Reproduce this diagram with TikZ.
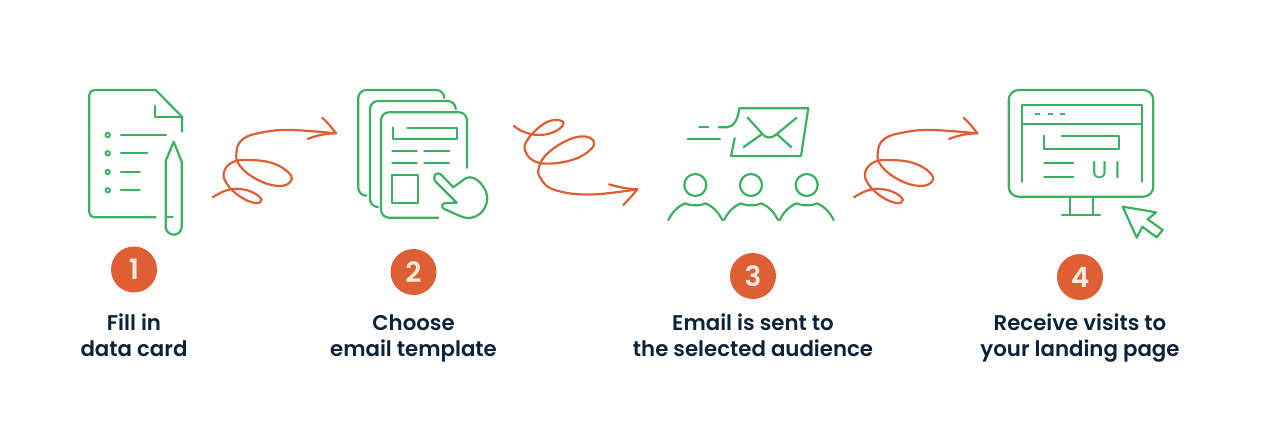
\documentclass[tikz,border=0pt]{standalone}
\usepackage{fontspec}
\setmainfont{Poppins}
\newfontfamily\capfont{Poppins SemiBold}
\usepackage{xcolor}
\definecolor{iconGreen}{HTML}{3CB062}
\definecolor{swirlOrange}{HTML}{DE5F33}
\definecolor{capNavy}{HTML}{0B2239}
\definecolor{numCream}{HTML}{F8EBDD}
\tikzset{
    icon/.style={draw=iconGreen, line width=2.2pt, line join=round, line cap=round},
    swirl/.style={draw=swirlOrange, line width=2.2pt, line join=round, line cap=round},
    stepnum/.style={circle, fill=swirlOrange, text=numCream, minimum size=46pt, inner sep=0pt, font=\capfont\fontsize{28}{28}\selectfont},
    caption/.style={text=capNavy, align=center, anchor=base, font=\capfont\fontsize{21.3}{26}\selectfont}
}

\begin{document}
\begin{tikzpicture}[x=1pt, y=-1pt]
            \useasboundingbox (0,0) rectangle (1280,426);
            % data card
            \draw [icon, rounded corners=5pt] (155.7,217.3) -- (89.3,217.3) -- (89.3,90) -- (155.7,90);
            \draw [icon] (155.7,90) -- (182,116.7) -- (182,131.7);
            \draw [icon] (155,106) -- (155,116.7) -- (182,116.7);
            \foreach \ypos/\xend in {135/166, 153.3/147.3, 172/139.7, 190.3/139.7} {
                \draw [icon, line width=1.9pt] (107.7,\ypos) circle (2.2);
                \draw [icon] (121,\ypos) -- (\xend,\ypos);
            }
            \draw [icon] (173.7,141.7) -- (165.7,161) -- (165.7,226.7) arc (180:0:8) -- (181.7,161.7) -- cycle;
            \draw [icon] (165.7,216.7) -- (172.7,216.7);
            % swirls one and four have the same shape
            \foreach \xpos/\swirlname in {0/a, 641.3/d} {
                \begin{scope}[xshift=\xpos pt]
                    \coordinate (start\swirlname) at (212.7,197.3);
                    \coordinate (tip\swirlname) at (336,133.3);
                    \draw [swirl] plot [smooth, tension=0.7] coordinates {(start\swirlname) (226,190.5) (240,189) (254,193) (261.5,200) (255,203) (240,196.5) (227,184) (224,172) (233,162) (250,160) (272,163) (288,172) (291,181) (279,186) (258,180) (240,166) (236.5,152) (243,139) (262,132.5) (290,130) (tip\swirlname)};
                    \draw [swirl] (322.3,117.7) .. controls (328,123) and (332,128) .. (tip\swirlname) .. controls (326,133.5) and (316,135.5) .. (307.7,139);
                \end{scope}
            }
            % template pages
            \draw [icon, rounded corners=8pt] (366.3,195.7) -- (358.3,195.7) -- (358.3,90) -- (444.3,90) -- (444.3,97.7);
            \draw [icon, rounded corners=8pt] (377.7,207) -- (370,207) -- (370,101) -- (455.7,101) -- (455.7,108.3);
            \draw [icon, rounded corners=8pt] (438.3,217.7) -- (381,217.7) -- (381,112.3) -- (467,112.3) -- (467,167.7);
            \draw [icon] (407.3,127.7) -- (456.7,127.7) -- (456.7,139.3) -- (393.3,139.3) -- (393.3,127.7);
            \foreach \ypos in {151, 163} {
                \draw [icon] (392.3,\ypos) -- (416.7,\ypos);
                \draw [icon] (424.3,\ypos) -- (449,\ypos);
            }
            \draw [icon] (392,174.7) rectangle (418,203);
            \draw [icon] (456.7,202.7) -- (436,182) .. controls (431,176) and (437,170) .. (442,175.5) -- (453.3,187.3) -- (466,178) .. controls (476,174) and (487,188) .. (487.3,198) .. controls (487,210) and (478,218) .. (468,218) .. controls (462,218) and (452,212) .. (445,209.5) .. controls (440,207) and (442,203) .. (446,203) -- cycle;
            % swirl two
            \coordinate (startb) at (514,126);
            \coordinate (tipb) at (637.3,189.3);
            \draw [swirl] plot [smooth, tension=0.7] coordinates {(startb) (524,132) (540,135) (556,131) (563.5,123) (555,120) (542,125) (528,139) (525,150) (534,161) (552,163.5) (575,159) (590,150) (594,142) (585,136.5) (568,140) (548,153) (539,167) (541,179) (555,190) (590,194.5) (tipb)};
            \draw [swirl] (609,184.3) .. controls (618,187) and (628,189) .. (tipb) .. controls (633,195) and (628,200) .. (623.3,205);
            % envelope
            \draw [icon] (699.3,127.3) -- (708.3,127.3);
            \draw [icon] (718.7,127.3) -- (726.7,127.3) .. controls (733,127.3) and (738,120) .. (739.3,108.3) -- (808.3,108.3) -- (801,156) -- (731,156) -- (734.7,138.3);
            \draw [icon] (687.7,138.7) -- (720,138.7);
            \draw [icon] (747.7,117.7) -- (763.3,135) .. controls (767,138.5) and (772,138.5) .. (776.7,134) -- (796.7,117.7);
            \draw [icon] (743.7,147) -- (761.7,134.3);
            \draw [icon] (776.7,134) -- (791,147);
            % audience
            \foreach \xpos in {695.3, 751, 806.7} {
                \draw [icon] (\xpos,185) circle (11);
                \draw [icon] (\xpos-27,220) .. controls (\xpos-23,212) and (\xpos-17,206) .. (\xpos-10.3,203.3) .. controls (\xpos-5,206) and (\xpos+5,206) .. (\xpos+10.3,203.3) .. controls (\xpos+17,206) and (\xpos+23,212) .. (\xpos+27,220);
            }
            % monitor
            \draw [icon, rounded corners=10pt] (1008.7,90) rectangle (1153.3,196.7);
            \draw [icon] (1022.3,181.7) -- (1022.3,105) -- (1142.3,105) -- (1142.3,181.7);
            \draw [icon] (1022.3,124) -- (1142.3,124);
            \foreach \xpos in {1035, 1047.7, 1060} {
                \draw [icon, line cap=butt] (\xpos,114.3) -- (\xpos+5,114.3);
            }
            \draw [icon] (1061.7,135.7) -- (1119.3,135.7) -- (1119.3,149.3) -- (1044.3,149.3) -- (1044.3,135.7);
            \draw [icon] (1044.3,163.3) -- (1073.3,163.3);
            \draw [icon] (1044.3,177.3) -- (1073.3,177.3);
            \node [text=iconGreen, font=\fontsize{24}{24}\selectfont] (uitext) at (1106,170) {U\hspace{7pt}I};
            \draw [icon] (1070,196.7) -- (1070,215);
            \draw [icon] (1092.7,196.7) -- (1092.7,215);
            \draw [icon] (1062,215) -- (1100,215);
            \draw [icon] (1122.7,206.7) -- (1156,212.3) -- (1147.7,219.3) -- (1162.7,230) -- (1156.7,237.3) -- (1142.3,226.7) -- (1136.7,237.7) -- cycle;
            % numbers and captions
            \node [stepnum] (numa) at (134,269.5) {1};
            \node [stepnum] (numb) at (413.5,272) {2};
            \node [stepnum] (numc) at (753,276) {3};
            \node [stepnum] (numd) at (1080,277) {4};
            \node [caption] (capa) at (134,356) {Fill in\\data card};
            \node [caption] (capb) at (413.5,356) {Choose\\email template};
            \node [caption] (capc) at (753,356) {Email is sent to\\the selected audience};
            \node [caption] (capd) at (1080,356) {Receive visits to\\your landing page};
        \end{tikzpicture}
\end{document}
